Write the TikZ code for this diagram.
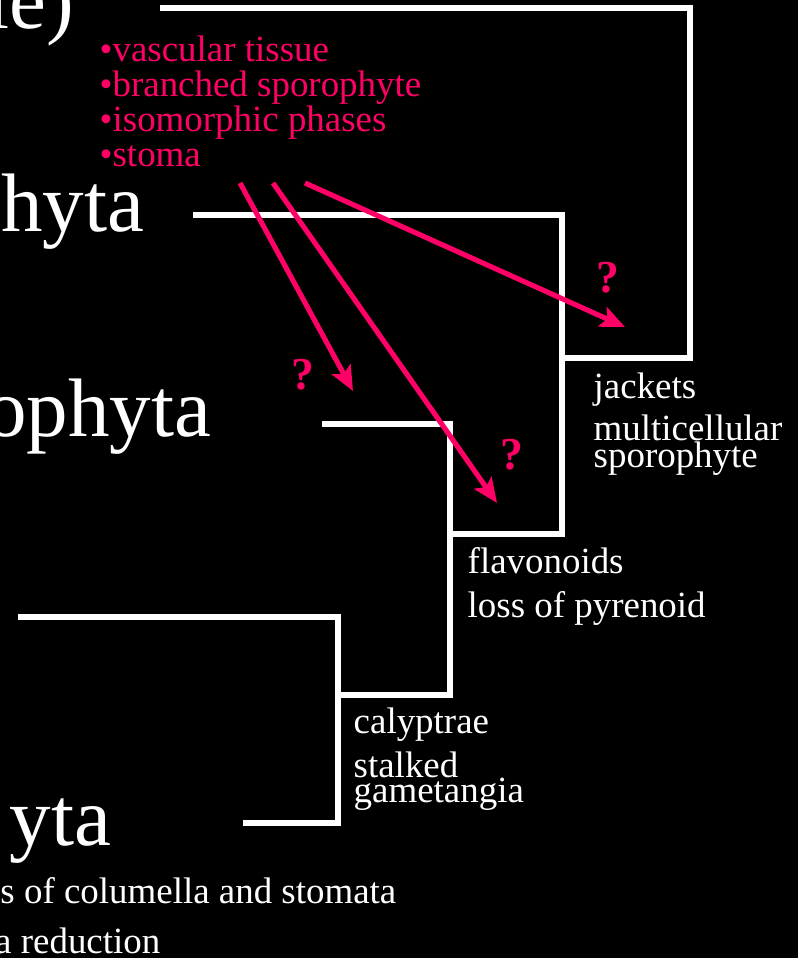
\documentclass[tikz,border=0pt]{standalone}
\usepackage{fontspec}
\setmainfont{Liberation Serif}
\usetikzlibrary{arrows.meta}
\definecolor{cladepink}{RGB}{255,0,102}
\tikzset{
  branch/.style={white, line width=1.45pt, line join=miter},
  guess/.style={cladepink, line width=1.45pt, -{Stealth[length=7pt, width=6pt, inset=1.5pt]}},
  taxon/.style={text=white, font=\fontsize{23.6}{24}\selectfont, inner sep=0pt},
  trait/.style={text=white, font=\fontsize{10.5}{11}\selectfont, anchor=base west, inner sep=0pt},
  feature/.style={text=cladepink, font=\fontsize{10.5}{11}\selectfont, anchor=base west, inner sep=0pt},
  query/.style={text=cladepink, font=\bfseries\fontsize{13}{13}\selectfont, inner sep=0pt}
}
\begin{document}
\begin{tikzpicture}[x=0.01cm, y=-0.01cm]
  % background
  \fill[black] (0,0) rectangle (798,958);
  \useasboundingbox (0,0) rectangle (798,958);
  % taxa (cut at the left edge)
  \node[taxon, anchor=base east] (charo) at (75,29) {le)};
  \node[taxon, anchor=base east] (tracheo) at (145,232) {hyta};
  \node[taxon, anchor=base east] (antho) at (212,436) {ophyta};
  \node[taxon, anchor=base east] (bryo) at (112,845) {yta};
  \node[trait, anchor=base east] (columella) at (397,903) {s of columella and stomata};
  \node[trait, anchor=base east] (reduction) at (161,953) {a reduction};
  % tree
  \coordinate (top-l) at (160,8);
  \coordinate (knot1) at (690,358);
  \coordinate (join1) at (562,358);
  \coordinate (mid-l) at (193,215);
  \coordinate (knot2) at (562,534);
  \coordinate (join2) at (450,534);
  \coordinate (low-l) at (322,424);
  \coordinate (knot3) at (450,695);
  \coordinate (join3) at (338,695);
  \coordinate (base-l) at (18,617);
  \coordinate (knot4) at (338,823);
  \coordinate (base-r) at (243,823);
  \draw[branch] (top-l) -| (knot1) -- (join1);
  \draw[branch] (mid-l) -| (knot2) -- (join2);
  \draw[branch] (low-l) -| (knot3) -- (join3);
  \draw[branch] (base-l) -| (knot4) -- (base-r);
  % traits at the nodes
  \node[trait] (jackets) at (593,398) {jackets};
  \node[trait] (multicell) at (593,440) {multicellular};
  \node[trait] (sporo) at (593,467) {sporophyte};
  \node[trait] (flavo) at (467,573) {flavonoids};
  \node[trait] (pyreno) at (467,617) {loss of pyrenoid};
  \node[trait] (calyp) at (353,733) {calyptrae};
  \node[trait] (stalked) at (353,777) {stalked};
  \node[trait] (gamet) at (353,802) {gametangia};
  % features in question
  \node[feature] (vascular) at (99,62) {•vascular tissue};
  \node[feature] (branched) at (99,97) {•branched sporophyte};
  \node[feature] (isomorph) at (99,132) {•isomorphic phases};
  \node[feature] (stoma) at (99,167) {•stoma};
  % possible positions
  \coordinate (from1) at (240,183);
  \coordinate (from2) at (273,183);
  \coordinate (from3) at (305,183);
  \coordinate (to1) at (353,391);
  \coordinate (to2) at (497,503);
  \coordinate (to3) at (625,327);
  \draw[guess] (from1) -- (to1);
  \draw[guess] (from2) -- (to2);
  \draw[guess] (from3) -- (to3);
  \node[query] (q1) at (303,375) {?};
  \node[query] (q2) at (512,455) {?};
  \node[query] (q3) at (608,278) {?};
\end{tikzpicture}
\end{document}
